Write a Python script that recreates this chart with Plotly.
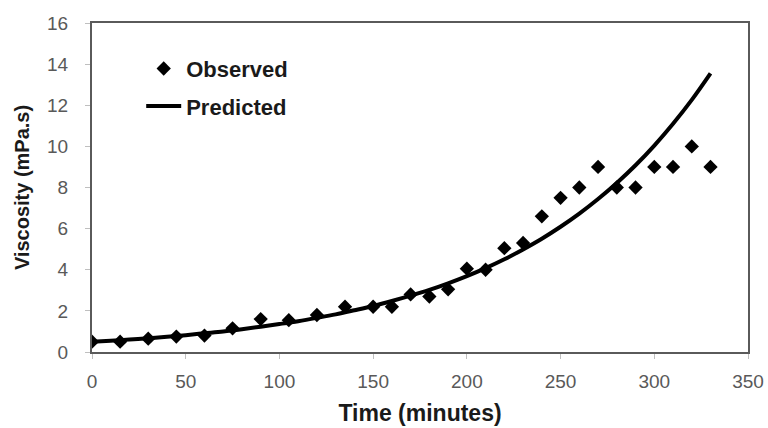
import plotly.graph_objects as go

# Observed data
obs_time = [0, 15, 30, 45, 60, 75, 90, 105, 120, 135, 150, 160, 170, 180, 190,
            200, 210, 220, 230, 240, 250, 260, 270, 280, 290, 300, 310, 320, 330]
obs_visc = [0.5, 0.5, 0.65, 0.75, 0.8, 1.15, 1.6, 1.55, 1.8, 2.2, 2.2, 2.2, 2.8, 2.7, 3.05,
            4.05, 4.0, 5.05, 5.3, 6.6, 7.5, 8.0, 9.0, 8.0, 8.0, 9.0, 9.0, 10.0, 9.0]

# Predicted curve
pred_time = [0, 10, 20, 30, 40, 50, 60, 70, 80, 90, 100, 110, 120, 130, 140, 150, 160,
             170, 180, 190, 200, 210, 220, 230, 240, 250, 260, 270, 280, 290, 300, 310, 320, 330]
pred_visc = [0.50, 0.55, 0.61, 0.67, 0.74, 0.82, 0.91, 1.00, 1.11, 1.23, 1.36, 1.50, 1.66,
             1.83, 2.03, 2.24, 2.48, 2.74, 3.02, 3.34, 3.69, 4.08, 4.51, 4.99, 5.51, 6.09,
             6.73, 7.44, 8.22, 9.08, 10.04, 11.10, 12.26, 13.55]

x_ticks = [0, 50, 100, 150, 200, 250, 300, 350]
y_ticks = [0, 2, 4, 6, 8, 10, 12, 14, 16]

FONT = "Liberation Sans, Arial"

fig = go.Figure()
fig.add_trace(go.Scatter(x=obs_time, y=obs_visc, mode="markers", name="Observed",
                         legendgroup="obs",
                         marker=dict(symbol="diamond", size=11, color="black")))
fig.add_trace(go.Scatter(x=pred_time, y=pred_visc, mode="lines", name="Predicted",
                         legendgroup="pred",
                         line=dict(color="black", width=4, shape="spline")))

axis_common = dict(showgrid=False, zeroline=False, showline=True, linecolor="#5a5a5a",
                   linewidth=2, mirror=True, ticks="outside", ticklen=5,
                   tickcolor="#BFBFBF", tickwidth=1, automargin=False,
                   tickfont=dict(family=FONT, size=19, color="#595959"))

fig.update_layout(
    width=768, height=428,
    margin=dict(l=92, r=20, t=23, b=76),
    plot_bgcolor="white", paper_bgcolor="white",
    showlegend=True,
    legend=dict(x=0.075, y=0.925, xanchor="left", yanchor="top",
                bgcolor="rgba(0,0,0,0)", borderwidth=0,
                traceorder="grouped", tracegroupgap=6, itemwidth=35,
                font=dict(family=FONT, size=22, color="#1a1a1a", weight="bold")),
    xaxis=dict(range=[0, 350], tickvals=x_ticks, ticklabelstandoff=6, **axis_common,
               title=dict(text="<b>Time (minutes)</b>", standoff=14,
                          font=dict(family=FONT, size=23, color="#1a1a1a"))),
    yaxis=dict(range=[0, 16], tickvals=y_ticks, ticklabelstandoff=13, **axis_common,
               title=dict(text="<b>Viscosity (mPa.s)</b>", standoff=12,
                          font=dict(family=FONT, size=20, color="#1a1a1a"))),
)

# Remove the page's default body margin so the figure fills the window exactly.
fig.write_html("out.html",
               config={"displayModeBar": False},
               post_script="document.body.style.margin='0';document.body.style.overflow='hidden';")
